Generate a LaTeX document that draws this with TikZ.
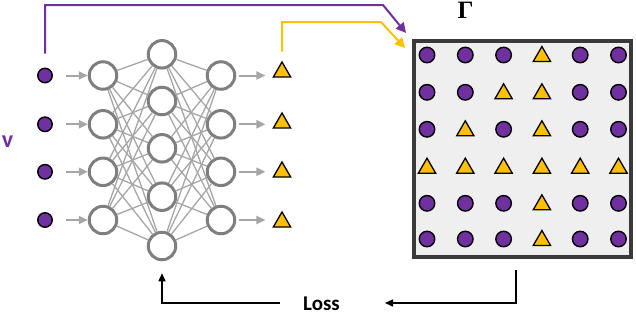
\documentclass[tikz,border=0pt]{standalone}
\usepackage{fontspec}
\setsansfont{Carlito}
\newfontfamily\gammafont{Liberation Serif}
\usetikzlibrary{arrows.meta,shapes.geometric}
\definecolor{vpurple}{HTML}{7030A0}
\definecolor{tyellow}{HTML}{FFC000}
\definecolor{ngray}{HTML}{7F7F7F}
\definecolor{egray}{HTML}{A6A6A6}
\definecolor{boxgray}{HTML}{3A3A3A}
\definecolor{boxfill}{HTML}{EFEFEF}
\newcommand\gridrowdraw[3]{%
  \foreach \c/\t in {#3} {
    \pgfmathsetmacro{\gx}{427+(\c-1)*38.3}
    \if\t T
      \node[tri] (g#1-\c) at (\gx,#2+1.5) {};
    \else
      \node[dot,minimum size=15.5pt] (g#1-\c) at (\gx,#2) {};
    \fi
  }}
\begin{document}
\begin{tikzpicture}[x=1pt,y=-1pt,
  dot/.style={circle,fill=vpurple,draw=black,line width=1.4pt,minimum size=14.5pt,inner sep=0pt},
  tri/.style={regular polygon,regular polygon sides=3,fill=tyellow,draw=black,line width=1.3pt,minimum size=20pt,inner sep=0pt},
  neuron/.style={circle,draw=ngray,line width=3pt,fill=white,minimum size=27.5pt,inner sep=0pt},
  nedge/.style={egray,line width=1.3pt},
  flow/.style={egray,line width=2pt,-{Triangle[length=9pt,width=8pt]}},
  link/.style={line width=2pt,-{Triangle[length=10pt,width=10pt]}},
  lossarrow/.style={black,line width=1.5pt,-{Triangle[length=8pt,width=7pt]}}]
\useasboundingbox (0,0) rectangle (636,314);

% input dots, layers, outputs
\foreach \i/\y in {1/75.5,2/124.3,3/171.8,4/220} {
  \node[dot] (in\i) at (45,\y) {};
  \node[neuron] (a\i) at (103,\y) {};
  \node[neuron] (c\i) at (221,\y) {};
}
\foreach \i/\y in {1/72,2/123,3/172,4/222}
  \node[tri] (o\i) at (282,\y) {};
\foreach \j/\y in {1/54.3,2/101,3/148.3,4/196.7,5/246}
  \node[neuron] (b\j) at (162,\y) {};

% connections
\foreach \i in {1,...,4}
  \foreach \j in {1,...,5} {
    \draw[nedge] (a\i) -- (b\j);
    \draw[nedge] (b\j) -- (c\i);
  }

\foreach \i in {1,...,4} {
  \draw[flow,shorten <=13pt] (in\i.east) -- (a\i.west);
  \draw[flow,shorten <=3pt,shorten >=10pt] (c\i.east) -- (c\i.east -| o\i.west);
}

% v label
\node[font=\sffamily\bfseries\fontsize{24}{24}\selectfont,text=vpurple,inner sep=0pt] (v) at (7.5,142) {v};

% output box
\node[draw=boxgray,line width=4pt,fill=boxfill,minimum width=217pt,minimum height=216pt,inner sep=0pt] (box) at (522.2,149.3) {};
\node[font=\gammafont\bfseries\fontsize{25}{25}\selectfont,inner sep=0pt,anchor=base] (gamma) at (465.5,18.5) {Γ};

% grid
\gridrowdraw{1}{55}{1/C,2/C,3/C,4/T,5/C,6/C}
\gridrowdraw{2}{92.3}{1/C,2/C,3/T,4/T,5/C,6/C}
\gridrowdraw{3}{129.3}{1/C,2/T,3/C,4/T,5/C,6/C}
\gridrowdraw{4}{166.7}{1/T,2/T,3/T,4/T,5/T,6/T}
\gridrowdraw{5}{203.3}{1/C,2/C,3/C,4/T,5/C,6/C}
\gridrowdraw{6}{239}{1/C,2/C,3/C,4/T,5/C,6/C}

% feedback links
\coordinate (pc) at (383,5);
\coordinate (ptip) at (406,33);
\coordinate (yc) at (381,22);
\coordinate (ytip) at (405,48);
\draw[link,vpurple,shorten <=14pt] (in1.north) |- (pc) -- (ptip);
\draw[link,tyellow,shorten <=9pt] (o1.north) |- (yc) -- (ytip);

% loss
\node[font=\sffamily\bfseries\fontsize{21}{21}\selectfont,inner sep=0pt,anchor=base] (loss) at (321.5,310) {Loss};
\coordinate (ls) at (516,270);
\coordinate (le) at (385,303);
\coordinate (lb) at (280,303);
\draw[lossarrow] (ls) |- (le);
\draw[lossarrow,shorten >=12pt] (lb) -| (b5.south);
\end{tikzpicture}
\end{document}
